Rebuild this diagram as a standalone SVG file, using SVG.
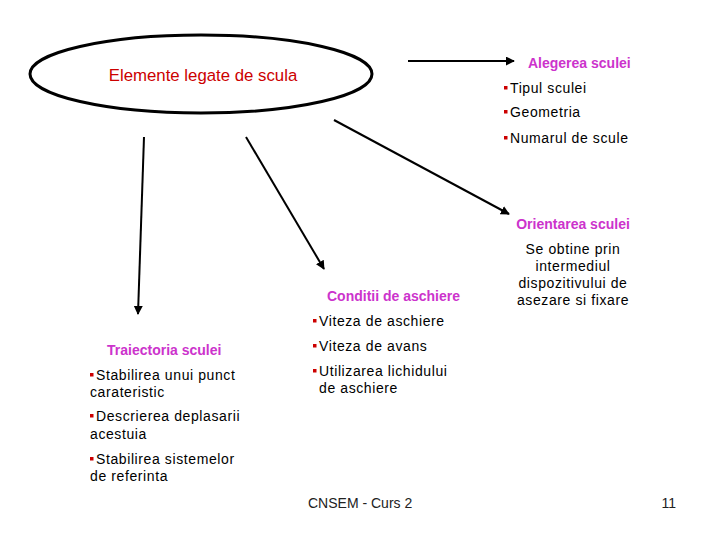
<svg xmlns="http://www.w3.org/2000/svg" width="720" height="540" viewBox="0 0 720 540">
<style>
.t{font-family:"Liberation Sans",Arial,sans-serif;font-size:14px;letter-spacing:0.6px;fill:#000}
.h{font-family:"Liberation Sans",Arial,sans-serif;font-size:14px;font-weight:bold;fill:#cc33cc}
.m{text-anchor:middle}
.b{fill:#cc0000}
.c{stroke:#000;stroke-width:2;fill:none;marker-end:url(#ah)}
.f{font-family:"Liberation Sans",Arial,sans-serif;font-size:14px;fill:#222}
</style>
<defs>
<marker id="ah" viewBox="0 0 10 10" refX="9" refY="5" markerWidth="4.5" markerHeight="4.5" orient="auto" markerUnits="strokeWidth">
<path d="M0,0 L10,5 L0,10 z" fill="#000"/>
</marker>
</defs>
<rect width="720" height="540" fill="#fff"/>
<g id="connectors">
<line class="c" x1="408" y1="61" x2="514" y2="61"/>
<line class="c" x1="334" y1="120" x2="509" y2="214"/>
<line class="c" x1="246" y1="137" x2="324" y2="269"/>
<line class="c" x1="144" y1="137" x2="138" y2="314"/>
</g>
<g id="elemente">
<ellipse cx="201" cy="74" rx="171" ry="39" fill="none" stroke="#000" stroke-width="3"/>
<text x="203" y="81" class="m" style="font-family:'Liberation Sans',Arial,sans-serif;font-size:16.8px;fill:#cc0000">Elemente legate de scula</text>
</g>
<g id="alegerea">
<text x="528" y="68" class="h">Alegerea sculei</text>
<rect class="b" x="504" y="86" width="3.5" height="3.5"/>
<text x="510" y="93" class="t">Tipul sculei</text>
<rect class="b" x="504" y="110" width="3.5" height="3.5"/>
<text x="510" y="117" class="t">Geometria</text>
<rect class="b" x="504" y="136" width="3.5" height="3.5"/>
<text x="510" y="143" class="t">Numarul de scule</text>
</g>
<g id="orientarea">
<text x="573" y="229" class="h m">Orientarea sculei</text>
<text x="573" y="254" class="t m">Se obtine prin</text>
<text x="573" y="271" class="t m">intermediul</text>
<text x="573" y="288" class="t m">dispozitivului de</text>
<text x="573" y="305" class="t m">asezare si fixare</text>
</g>
<g id="conditii">
<text x="327" y="301" class="h">Conditii de aschiere</text>
<rect class="b" x="313" y="319" width="3.5" height="3.5"/>
<text x="319" y="326" class="t">Viteza de aschiere</text>
<rect class="b" x="313" y="344" width="3.5" height="3.5"/>
<text x="319" y="351" class="t">Viteza de avans</text>
<rect class="b" x="313" y="369" width="3.5" height="3.5"/>
<text x="319" y="376" class="t">Utilizarea lichidului</text>
<text x="319" y="393" class="t">de aschiere</text>
</g>
<g id="traiectoria">
<text x="107" y="355" class="h">Traiectoria sculei</text>
<rect class="b" x="90" y="373" width="3.5" height="3.5"/>
<text x="96" y="380" class="t">Stabilirea unui punct</text>
<text x="90" y="397" class="t">carateristic</text>
<rect class="b" x="90" y="414" width="3.5" height="3.5"/>
<text x="96" y="421" class="t">Descrierea deplasarii</text>
<text x="90" y="439" class="t">acestuia</text>
<rect class="b" x="90" y="457" width="3.5" height="3.5"/>
<text x="96" y="464" class="t">Stabilirea sistemelor</text>
<text x="90" y="481" class="t">de referinta</text>
</g>
<g id="footer">
<text x="308" y="508" class="f">CNSEM - Curs 2</text>
<text x="676" y="508" class="f" text-anchor="end">11</text>
</g>
</svg>
